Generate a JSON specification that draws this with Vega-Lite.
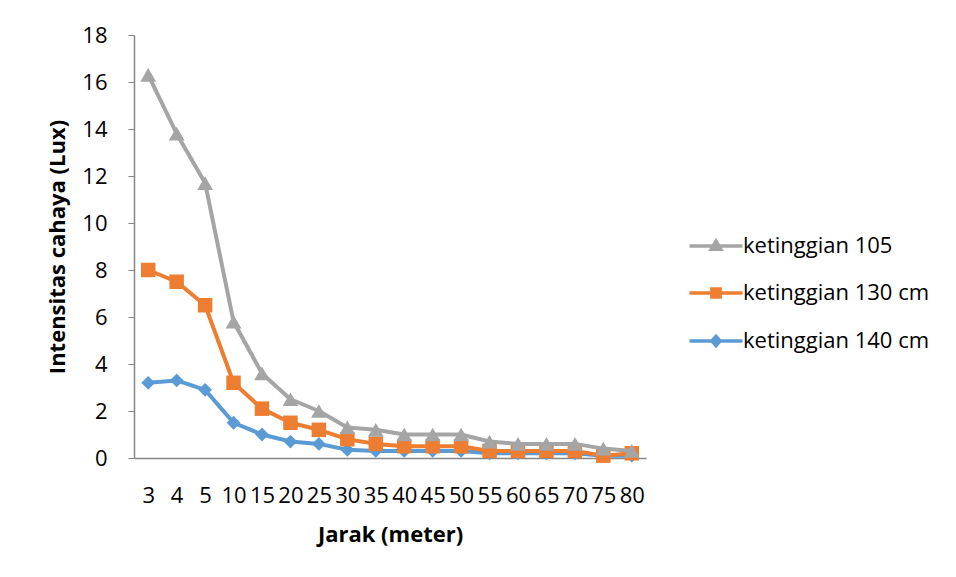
{
  "$schema": "https://vega.github.io/schema/vega-lite/v6.json",
  "autosize": {"type": "none"},
  "width": 512,
  "height": 423,
  "padding": {"left": 134, "top": 35, "right": 310, "bottom": 119},
  "background": "white",
  "config": {
    "view": {"stroke": null},
    "font": "Open Sans",
    "axis": {"labelFont": "Open Sans", "titleFont": "Open Sans", "labelColor": "#000000", "titleColor": "#000000", "grid": false}
  },
  "data": {
    "values": [
      {"jarak": "3", "seri": "ketinggian 105", "lux": 16.3},
      {"jarak": "4", "seri": "ketinggian 105", "lux": 13.8},
      {"jarak": "5", "seri": "ketinggian 105", "lux": 11.7},
      {"jarak": "10", "seri": "ketinggian 105", "lux": 5.8},
      {"jarak": "15", "seri": "ketinggian 105", "lux": 3.6},
      {"jarak": "20", "seri": "ketinggian 105", "lux": 2.5},
      {"jarak": "25", "seri": "ketinggian 105", "lux": 2.0},
      {"jarak": "30", "seri": "ketinggian 105", "lux": 1.3},
      {"jarak": "35", "seri": "ketinggian 105", "lux": 1.2},
      {"jarak": "40", "seri": "ketinggian 105", "lux": 1.0},
      {"jarak": "45", "seri": "ketinggian 105", "lux": 1.0},
      {"jarak": "50", "seri": "ketinggian 105", "lux": 1.0},
      {"jarak": "55", "seri": "ketinggian 105", "lux": 0.7},
      {"jarak": "60", "seri": "ketinggian 105", "lux": 0.6},
      {"jarak": "65", "seri": "ketinggian 105", "lux": 0.6},
      {"jarak": "70", "seri": "ketinggian 105", "lux": 0.6},
      {"jarak": "75", "seri": "ketinggian 105", "lux": 0.4},
      {"jarak": "80", "seri": "ketinggian 105", "lux": 0.3},
      {"jarak": "3", "seri": "ketinggian 130 cm", "lux": 8.0},
      {"jarak": "4", "seri": "ketinggian 130 cm", "lux": 7.5},
      {"jarak": "5", "seri": "ketinggian 130 cm", "lux": 6.5},
      {"jarak": "10", "seri": "ketinggian 130 cm", "lux": 3.2},
      {"jarak": "15", "seri": "ketinggian 130 cm", "lux": 2.1},
      {"jarak": "20", "seri": "ketinggian 130 cm", "lux": 1.5},
      {"jarak": "25", "seri": "ketinggian 130 cm", "lux": 1.2},
      {"jarak": "30", "seri": "ketinggian 130 cm", "lux": 0.8},
      {"jarak": "35", "seri": "ketinggian 130 cm", "lux": 0.6},
      {"jarak": "40", "seri": "ketinggian 130 cm", "lux": 0.5},
      {"jarak": "45", "seri": "ketinggian 130 cm", "lux": 0.5},
      {"jarak": "50", "seri": "ketinggian 130 cm", "lux": 0.5},
      {"jarak": "55", "seri": "ketinggian 130 cm", "lux": 0.3},
      {"jarak": "60", "seri": "ketinggian 130 cm", "lux": 0.3},
      {"jarak": "65", "seri": "ketinggian 130 cm", "lux": 0.3},
      {"jarak": "70", "seri": "ketinggian 130 cm", "lux": 0.3},
      {"jarak": "75", "seri": "ketinggian 130 cm", "lux": 0.1},
      {"jarak": "80", "seri": "ketinggian 130 cm", "lux": 0.2},
      {"jarak": "3", "seri": "ketinggian 140 cm", "lux": 3.2},
      {"jarak": "4", "seri": "ketinggian 140 cm", "lux": 3.3},
      {"jarak": "5", "seri": "ketinggian 140 cm", "lux": 2.9},
      {"jarak": "10", "seri": "ketinggian 140 cm", "lux": 1.5},
      {"jarak": "15", "seri": "ketinggian 140 cm", "lux": 1.0},
      {"jarak": "20", "seri": "ketinggian 140 cm", "lux": 0.7},
      {"jarak": "25", "seri": "ketinggian 140 cm", "lux": 0.6},
      {"jarak": "30", "seri": "ketinggian 140 cm", "lux": 0.35},
      {"jarak": "35", "seri": "ketinggian 140 cm", "lux": 0.3},
      {"jarak": "40", "seri": "ketinggian 140 cm", "lux": 0.3},
      {"jarak": "45", "seri": "ketinggian 140 cm", "lux": 0.3},
      {"jarak": "50", "seri": "ketinggian 140 cm", "lux": 0.3},
      {"jarak": "55", "seri": "ketinggian 140 cm", "lux": 0.2},
      {"jarak": "60", "seri": "ketinggian 140 cm", "lux": 0.2},
      {"jarak": "65", "seri": "ketinggian 140 cm", "lux": 0.2},
      {"jarak": "70", "seri": "ketinggian 140 cm", "lux": 0.2},
      {"jarak": "75", "seri": "ketinggian 140 cm", "lux": 0.1},
      {"jarak": "80", "seri": "ketinggian 140 cm", "lux": 0.1}
    ]
  },
  "encoding": {
    "x": {
      "field": "jarak",
      "type": "ordinal",
      "sort": null,
      "scale": {"type": "point", "padding": 0.5},
      "axis": {
        "title": "Jarak (meter)",
        "labelAngle": 0,
        "labelFontSize": 22,
        "labelPadding": 27,
        "labelOverlap": false,
        "ticks": false,
        "tickSize": 0,
        "domainColor": "#868686",
        "domainWidth": 1.5,
        "titleFontSize": 22,
        "titleFontWeight": "bold",
        "titlePadding": 18
      }
    },
    "y": {
      "field": "lux",
      "type": "quantitative",
      "scale": {"domain": [0, 18], "nice": false},
      "axis": {
        "title": "Intensitas cahaya (Lux)",
        "values": [0, 2, 4, 6, 8, 10, 12, 14, 16, 18],
        "labelFontSize": 22,
        "labelPadding": 21,
        "tickSize": 6,
        "tickColor": "#868686",
        "domainColor": "#868686",
        "domainWidth": 1.5,
        "titleFontSize": 22,
        "titleFontWeight": "bold",
        "titlePadding": 12
      }
    },
    "color": {
      "field": "seri",
      "type": "nominal",
      "scale": {
        "domain": ["ketinggian 105", "ketinggian 130 cm", "ketinggian 140 cm"],
        "range": ["#A5A5A5", "#ED7D31", "#5B9BD5"]
      },
      "legend": {
        "orient": "none",
        "legendX": 551,
        "legendY": 200,
        "title": null,
        "padding": 0,
        "labelFont": "Open Sans",
        "labelFontSize": 22,
        "labelColor": "#000000",
        "labelLimit": 400,
        "symbolSize": 175,
        "symbolOffset": 20,
        "labelOffset": 16,
        "symbolStrokeWidth": 3.5,
        "rowPadding": 24,
        "encode": {
          "symbols": {
            "update": {
              "shape": {"signal": "datum.value === 'ketinggian 105' ? 'M-4,0H4M0,-0.72L0.72,0.5L-0.72,0.5Z' : datum.value === 'ketinggian 130 cm' ? 'M-4,0H4M-0.62,-0.62H0.62V0.62H-0.62Z' : 'M-4,0H4M0,-0.7L0.62,0L0,0.7L-0.62,0Z'"},
              "fill": {"scale": "color", "field": "value"},
              "stroke": {"scale": "color", "field": "value"},
              "strokeWidth": {"value": 3.5},
              "opacity": {"value": 1}
            }
          }
        }
      }
    }
  },
  "layer": [
    {
      "transform": [{"filter": "datum.seri === 'ketinggian 140 cm'"}],
      "mark": {"type": "line", "strokeWidth": 4, "strokeJoin": "round", "point": {"filled": true, "shape": "diamond", "size": 190, "opacity": 1}}
    },
    {
      "transform": [{"filter": "datum.seri === 'ketinggian 130 cm'"}],
      "mark": {"type": "line", "strokeWidth": 4, "strokeJoin": "round", "point": {"filled": true, "shape": "square", "size": 210, "opacity": 1}}
    },
    {
      "transform": [{"filter": "datum.seri === 'ketinggian 105'"}],
      "mark": {"type": "line", "strokeWidth": 4, "strokeJoin": "round", "point": {"filled": true, "shape": "triangle-up", "size": 250, "opacity": 1}}
    }
  ]
}
